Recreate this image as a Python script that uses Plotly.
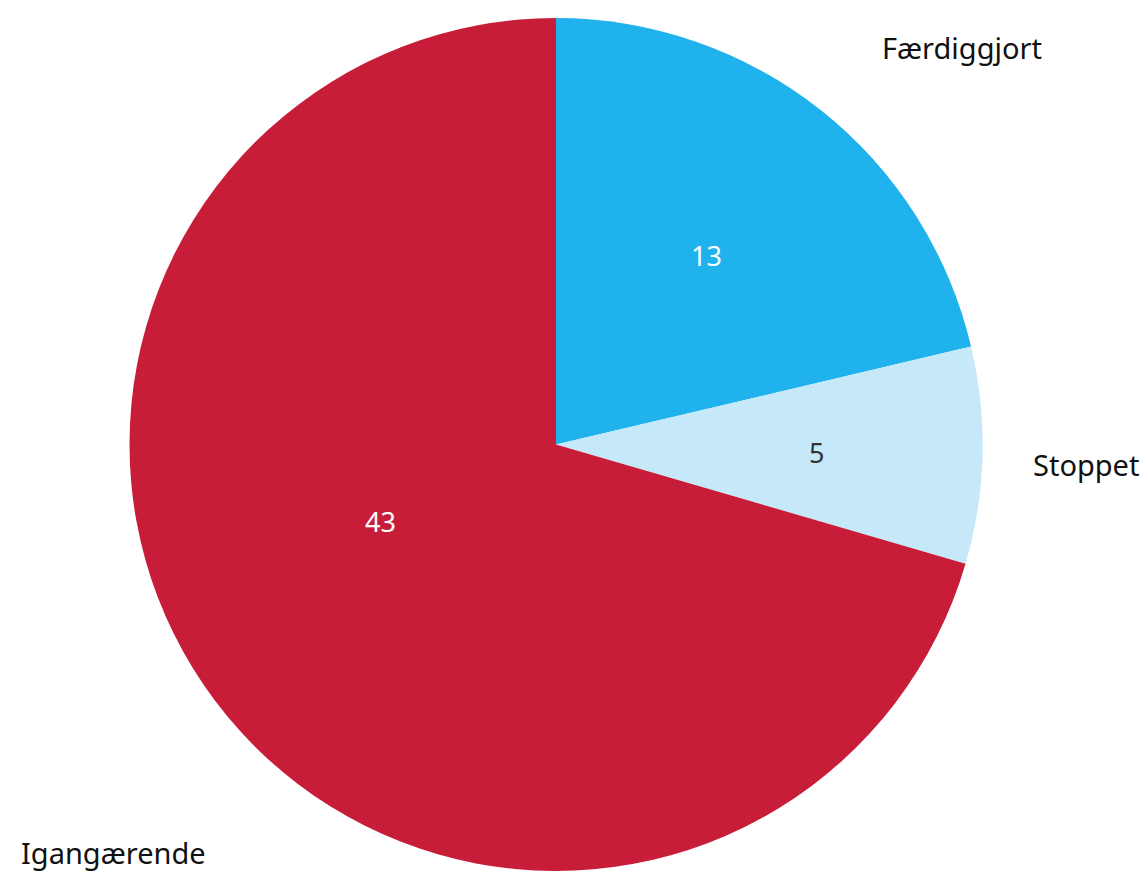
import math
import plotly.graph_objects as go

# ---- data ----
categories = ["Færdiggjort", "Stoppet", "Igangærende"]
values = [13, 5, 43]

# ---- style / layout (not data) ----
colors = ["#20B2EC", "#C5E9F8", "#C81D38"]
value_font_colors = ["#FFFFFF", "#333333", "#FFFFFF"]
OFF = 8                               # default page body margin
W, H = 1148 - 2 * OFF, 871 - OFF
cx, cy, R = 556 - OFF, 446 - OFF, 428  # pie centre / radius in figure pixels
label_shift_deg = [7.2, 0.5, -5.7]    # label angle offset from slice middle
label_dist = [569, 530, 601]          # label centre distance from pie centre (px)
value_shift_deg = [0.0, 0.0, 13.5]
value_dist = [243, 261, 191]
FONT = "Noto Sans"

fig = go.Figure()

y_top = cy - R
y_bot = min(H, cy + R)
r_eff = (y_bot - y_top) / 2
fig.add_trace(go.Pie(
    labels=categories,
    values=values,
    sort=False,
    direction="clockwise",
    rotation=0,
    marker=dict(colors=colors, line=dict(width=0)),
    textinfo="none",
    hoverinfo="label+value",
    showlegend=False,
    domain=dict(x=[(cx - r_eff) / W, (cx + r_eff) / W],
                y=[1 - y_bot / H, 1 - y_top / H]),
))

total = sum(values)
cum = 0
annotations = []
for i, (cat, v) in enumerate(zip(categories, values)):
    mid = (cum + v / 2) / total * 360.0
    cum += v
    # value label
    a = math.radians(mid + value_shift_deg[i])
    vx = cx + value_dist[i] * math.sin(a)
    vy = cy - value_dist[i] * math.cos(a)
    annotations.append(dict(
        x=vx / W, y=1 - vy / H, xref="paper", yref="paper",
        text=str(v), showarrow=False, xanchor="center", yanchor="middle",
        font=dict(family=FONT, size=27, color=value_font_colors[i]),
    ))
    # category label
    a = math.radians(mid + label_shift_deg[i])
    lx = cx + label_dist[i] * math.sin(a)
    ly = cy - label_dist[i] * math.cos(a)
    annotations.append(dict(
        x=lx / W, y=1 - ly / H, xref="paper", yref="paper",
        text=cat, showarrow=False, xanchor="center", yanchor="middle",
        font=dict(family=FONT, size=29, color="#111111"),
    ))

fig.update_layout(
    width=W, height=H,
    margin=dict(l=0, r=0, t=0, b=0),
    paper_bgcolor="white",
    plot_bgcolor="white",
    annotations=annotations,
    font=dict(family=FONT),
)

fig.write_html("out.html")
